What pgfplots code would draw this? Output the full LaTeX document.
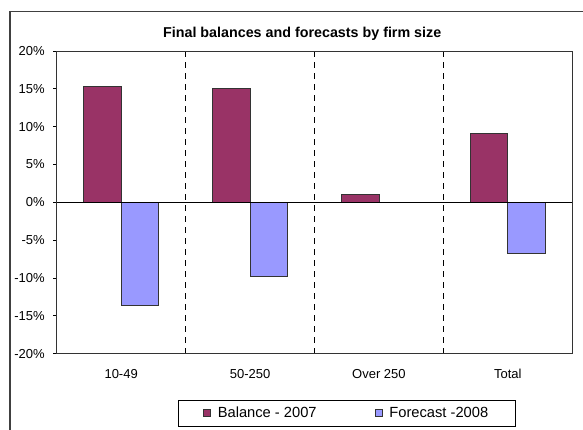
\documentclass[border=0pt]{standalone}
\usepackage{pgfplots}
\pgfplotsset{compat=1.18}
\usepackage{fontspec}
\setmainfont{Liberation Sans}

\definecolor{balance}{HTML}{993366}
\definecolor{forecast}{HTML}{9999FF}

\begin{document}
\begin{tikzpicture}[x=1pt,y=1pt]
% page area and chart frame
\path[use as bounding box] (0,0) rectangle (583,430);
\draw[black!75, line width=1.4pt] (10,-20) -- (10,418.5) -- (600,418.5);
\node[anchor=base, font=\fontsize{14.3}{17}\selectfont\bfseries]
  at (302.2,392.3) {Final balances and forecasts by firm size};
\begin{axis}[
  at={(56.7pt,76.3pt)}, anchor=south west,
  scale only axis, width=515.6pt, height=302.7pt,
  xmin=-0.5, xmax=3.5, ymin=-20, ymax=20,
  xtick={0,1,2,3}, xticklabels={10-49,50-250,Over 250,Total},
  minor xtick={0.5,1.5,2.5,3.5},
  xminorgrids=true,
  minor x grid style={black, dash pattern=on 6pt off 5pt, line width=0.7pt},
  x tick style={draw=none}, minor x tick style={draw=none},
  ytick={-20,-15,...,20}, ytick pos=left, tick align=outside,
  major tick length=3.5pt,
  y tick style={black, line width=0.8pt},
  yticklabel={\pgfmathprintnumber{\tick}\%},
  /pgf/number format/assume math mode=true,
  ticklabel style={font=\fontsize{13}{15}\selectfont},
  yticklabel style={xshift=-5pt},
  xticklabel style={text height=9.5pt, text depth=2.5pt, yshift=-8pt},
  axis line style={black!80, line width=0.8pt},
  ybar, bar width=37.7pt,
  legend columns=2,
  legend style={at={(0.5624,-0.1959)}, anchor=center, draw=black,
    line width=0.8pt, font=\fontsize{14.7}{17}\selectfont,
    inner xsep=25pt, inner ysep=5pt,
    /tikz/every odd column/.append style={column sep=5pt},
    /tikz/every even column/.append style={column sep=56pt}},
  legend image code/.code={\draw[#1, line width=0.7pt] (0pt,-3.5pt) rectangle (7pt,3.5pt);},
]
\addplot[fill=balance, draw=black!80, line width=0.9pt, bar shift=-18.85pt]
  coordinates {(0,15.3) (1,15.1) (2,1.1) (3,9.1)};
\addlegendentry{Balance - 2007}
\addplot[fill=forecast, draw=black!80, line width=0.9pt, bar shift=18.85pt]
  coordinates {(0,-13.6) (1,-9.8) (2,0) (3,-6.7)};
\addlegendentry{Forecast -2008}
\draw[black, line width=0.9pt] (axis cs:-0.5,0) -- (axis cs:3.5,0);
\end{axis}
\end{tikzpicture}
\end{document}
